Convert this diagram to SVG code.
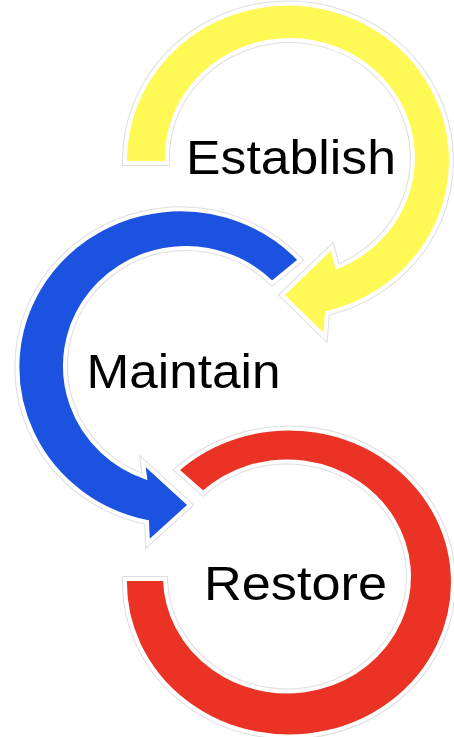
<svg xmlns="http://www.w3.org/2000/svg" width="454" height="737" viewBox="0 0 454 737">
<style>
.halo{fill:none;stroke:#dedede;stroke-width:6;stroke-linejoin:miter}
.shape{stroke:#ffffff;stroke-width:4;stroke-linejoin:miter}
.y{fill:#FFF955}
.b{fill:#1B52E0}
.r{fill:#EA3324}
.lbl{font-family:"Liberation Sans",Arial,sans-serif;font-size:48px;fill:#000}
</style>
<defs>
<path id="py" d="M 125 163 A 163 157 0 1 1 327 313 L 325 337 L 282 295 L 332 247 L 337 267 A 123 118 0 1 0 167 163 Z"/>
<path id="pb" d="M 300 260 A 163 158 0 1 0 147 522 L 148 543 L 190 505 L 143 462 L 145 477 A 121 118 0 1 1 272 283 Z"/>
<path id="pr" d="M 177 470 A 164 154 0 1 1 125 579 L 165 579 A 122 115 0 1 0 203 493 Z"/>
</defs>
<rect width="454" height="737" fill="#ffffff"/>
<g id="connectors"/>
<g id="establish">
<use href="#py" class="halo"/>
<use href="#py" class="shape y"/>
<text class="lbl" x="186" y="174" textLength="210" lengthAdjust="spacingAndGlyphs">Establish</text>
</g>
<g id="maintain">
<use href="#pb" class="halo"/>
<use href="#pb" class="shape b"/>
<text class="lbl" x="86.5" y="388" textLength="194" lengthAdjust="spacingAndGlyphs">Maintain</text>
</g>
<g id="restore">
<use href="#pr" class="halo"/>
<use href="#pr" class="shape r"/>
<text class="lbl" x="204" y="600" textLength="183" lengthAdjust="spacingAndGlyphs">Restore</text>
</g>
</svg>
